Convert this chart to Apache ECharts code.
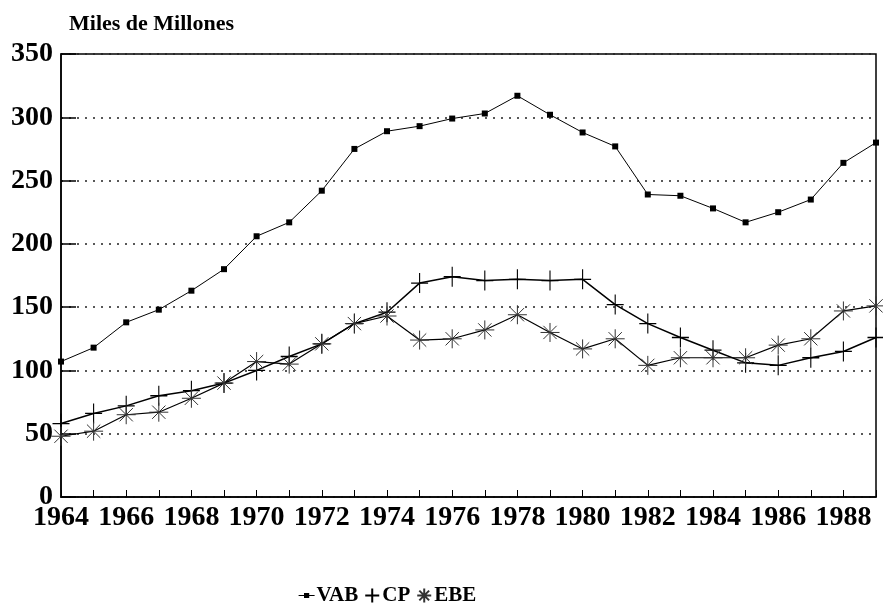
<!DOCTYPE html>
<html>
<head>
    <meta charset="UTF-8">
    <title>Miles de Millones</title>
    <script src="https://cdn.jsdelivr.net/npm/echarts@6/dist/echarts.min.js"></script>
    <style>
        html, body { margin: 0; padding: 0; background: #fff; }
        #chart { width: 883px; height: 605px; }
    </style>
</head>
<body>
<div id="chart"></div>
<script>
    // datos
    var years = ['1964', '1965', '1966', '1967', '1968', '1969', '1970', '1971', '1972', '1973',
        '1974', '1975', '1976', '1977', '1978', '1979', '1980', '1981', '1982', '1983',
        '1984', '1985', '1986', '1987', '1988', '1989'];
    var vab = [107, 118, 138, 148, 163, 180, 206, 217, 242, 275,
        289, 293, 299, 303, 317, 302, 288, 277, 239, 238,
        228, 217, 225, 235, 264, 280];
    var cp = [58, 66, 72, 80, 84, 90, 100, 111, 121, 137,
        146, 169, 174, 171, 172, 171, 172, 152, 137, 126,
        116, 106, 104, 110, 115, 126];
    var ebe = [48, 52, 65, 67, 78, 90, 107, 105, 121, 137,
        143, 124, 125, 132, 144, 130, 117, 125, 104, 110,
        110, 110, 120, 125, 147, 151];
    var yTicks = [0, 50, 100, 150, 200, 250, 300, 350];

    var serif = 'Liberation Serif';
    var crossPath = 'path://M0,-10L0,10M-10,0L10,0';
    var starPath = 'path://M0,-10L0,10M-10,0L10,0M-7,-7L7,7M-7,7L7,-7';
    var vabIcon = 'path://M-10,0L10,0M-2.5,-2.5h5v5h-5z';

    var myChart = echarts.init(document.getElementById('chart'));

    var option = {
        animation: false,
        title: {
            text: 'Miles de Millones',
            left: 64,
            top: 8,
            textStyle: { fontFamily: serif, fontWeight: 'bold', fontSize: 22, color: '#000' }
        },
        grid: {
            left: 61, right: 7, top: 54, bottom: 108,
            containLabel: false,
            outerBoundsMode: 'none',
            show: true,
            borderColor: '#000',
            borderWidth: 1.5
        },
        legend: {
            top: 580,
            left: 293,
            itemGap: 6,
            itemWidth: 16,
            itemHeight: 14,
            textStyle: { fontFamily: serif, fontWeight: 'bold', fontSize: 21, color: '#000', padding: [0, 0, 0, -3] },
            data: [
                { name: 'VAB', icon: vabIcon, itemStyle: { color: '#000', borderColor: '#000', borderWidth: 1.2 } },
                { name: 'CP', icon: crossPath },
                { name: 'EBE', icon: starPath }
            ]
        },
        xAxis: {
            type: 'category',
            data: years,
            boundaryGap: false,
            axisLine: { lineStyle: { color: '#000', width: 1.5 } },
            axisTick: { inside: true, length: 7, interval: 0, lineStyle: { color: '#000' } },
            axisLabel: {
                interval: 1,
                margin: 7,
                fontFamily: serif, fontWeight: 'bold', fontSize: 28, color: '#000'
            },
            splitLine: { show: false }
        },
        yAxis: {
            type: 'value',
            min: yTicks[0],
            max: yTicks[yTicks.length - 1],
            interval: 50,
            axisLine: { show: true, lineStyle: { color: '#000', width: 1.5 } },
            axisTick: { show: true, inside: true, length: 15, lineStyle: { color: '#000', width: 1.5 } },
            axisLabel: { margin: 8, fontFamily: serif, fontWeight: 'bold', fontSize: 28, color: '#000' },
            splitLine: { show: true, lineStyle: { color: '#222', type: [2, 6], width: 1.5 } }
        },
        series: [
            {
                name: 'VAB',
                type: 'line',
                data: vab,
                symbol: 'rect',
                symbolSize: 6,
                lineStyle: { color: '#000', width: 1 },
                itemStyle: { color: '#000' }
            },
            {
                name: 'CP',
                type: 'line',
                data: cp,
                symbol: crossPath,
                symbolSize: [17, 20],
                lineStyle: { color: '#000', width: 1.5 },
                itemStyle: { color: '#000', borderColor: '#000', borderWidth: 1.2 }
            },
            {
                name: 'EBE',
                type: 'line',
                data: ebe,
                symbol: starPath,
                symbolSize: 19,
                lineStyle: { color: '#000', width: 1.2 },
                itemStyle: { color: '#000', borderColor: '#333', borderWidth: 1 }
            }
        ]
    };
    myChart.setOption(option);
</script>
</body>
</html>
